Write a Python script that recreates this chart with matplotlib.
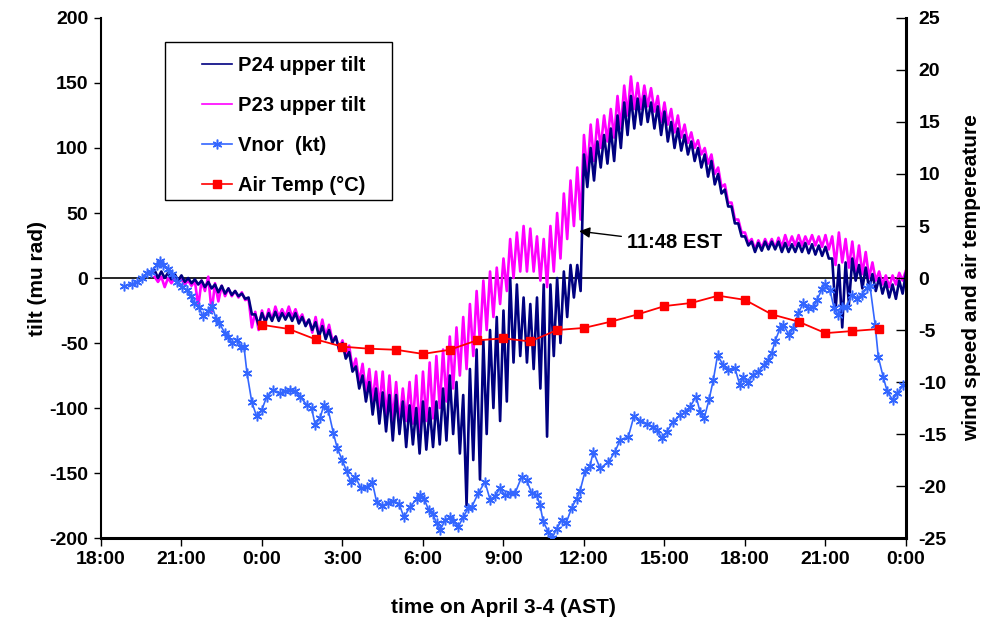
import numpy as np
import matplotlib
matplotlib.use("Agg")
import matplotlib.pyplot as plt
from matplotlib.patches import Rectangle

plt.rcParams['font.family'] = ['Liberation Sans', 'DejaVu Sans']
plt.rcParams['font.weight'] = 'bold'
plt.rcParams['axes.unicode_minus'] = False

# ---------------- data ----------------
# time axis: hours since 18:00 on April 3
xtick_hours = [0, 3, 6, 9, 12, 15, 18, 21, 24, 27, 30]
xtick_labels = ['18:00', '21:00', '0:00', '3:00', '6:00', '9:00', '12:00',
                '15:00', '18:00', '21:00', '0:00']

# tilt envelope samples (every 0.25 h from 2.0 h to 30.0 h): upper and lower readings
tilt_start, tilt_step = 2.0, 0.25
p24_hi = [6, 5, 4, 3, 2, 0, -1, -2, -3, -5, -6, -8, -10, -12, -15, -28,
          -27, -27, -26, -27, -27, -27, -30, -32, -34, -37, -40, -45, -50, -57, -68, -75,
          -80, -85, -88, -90, -90, -95, -98, -100, -95, -100, -95, -85, -75, -80, -90, -70,
          -55, -48, -40, -30, -25, 0, -5, -15, -20, -15, -5, -5, 0, 5, 10, 10,
          95, 100, 105, 110, 115, 125, 135, 140, 138, 140, 135, 132, 128, 120, 115, 110,
          105, 100, 95, 90, 80, 68, 55, 42, 32, 28, 27, 28, 28, 28, 27, 26,
          27, 27, 26, 25, 24, 15, 10, 12, 15, 10, 8, 3, 0, -3, -5, -2,
          4]
p24_lo = [0, 0, -1, -2, -3, -4, -5, -7, -8, -11, -12, -13, -14, -16, -28, -36,
          -34, -33, -33, -32, -33, -35, -37, -40, -45, -47, -50, -55, -62, -72, -85, -95,
          -105, -112, -118, -125, -120, -130, -128, -135, -132, -130, -128, -125, -120, -135, -175, -140,
          -155, -120, -100, -110, -95, -65, -60, -65, -70, -85, -122, -60, -50, -30, -15, -10,
          70, 75, 85, 88, 90, 100, 110, 115, 118, 120, 115, 110, 105, 100, 98, 95,
          90, 85, 78, 72, 65, 55, 42, 32, 25, 20, 21, 22, 22, 20, 20, 20,
          20, 19, 18, 17, 15, -25, -38, -20, -2, -8, -8, -10, -12, -15, -16, -12,
          -2]
p23_hi = [1, 1, 0, 0, -1, -2, -2, -2, 1, -4, -6, -8, -10, -11, -16, -26,
          -25, -24, -22, -24, -22, -24, -28, -32, -30, -32, -36, -45, -48, -52, -62, -66,
          -70, -72, -72, -75, -80, -85, -80, -75, -72, -65, -60, -55, -45, -38, -30, -20,
          -10, -2, 5, 8, 15, 30, 35, 40, 38, 32, 30, 40, 50, 65, 75, 85,
          110, 118, 122, 125, 130, 140, 148, 155, 150, 148, 146, 140, 135, 130, 125, 118,
          112, 106, 100, 95, 85, 72, 58, 45, 35, 30, 29, 30, 30, 31, 33, 32,
          33, 32, 33, 32, 33, 32, 35, 30, 28, 25, 20, 12, 5, 2, 2, 4,
          6]
p23_lo = [-3, -7, -4, -4, -5, -6, -22, -10, -26, -18, -14, -14, -15, -17, -38, -40,
          -34, -32, -30, -30, -30, -32, -36, -42, -44, -45, -48, -55, -60, -70, -80, -88,
          -95, -100, -108, -110, -112, -110, -112, -118, -110, -108, -100, -95, -85, -75, -70, -60,
          -50, -40, -30, -20, -10, 0, 5, 5, 5, -2, -7, 5, 15, 30, 40, 45,
          80, 90, 100, 105, 108, 115, 125, 130, 130, 132, 128, 120, 118, 112, 108, 104,
          100, 95, 88, 80, 70, 58, 45, 35, 27, 22, 23, 24, 23, 24, 25, 25,
          25, 26, 25, 24, 22, 10, 12, 8, 5, 3, 0, -2, -5, -7, -5, -2,
          2]

# wind speed Vnor (kt): time (h since 18:00) and value
vnor_t = [0.86, 1.14, 1.34, 1.53, 1.71, 1.86, 2.09, 2.20, 2.31, 2.50, 2.65, 2.83, 3.02, 3.20,
          3.35, 3.47, 3.65, 3.80, 3.99, 4.14, 4.29, 4.40, 4.62, 4.74, 4.88, 5.07, 5.22, 5.33,
          5.44, 5.62, 5.80, 5.99, 6.18, 6.41, 6.67, 6.86, 7.04, 7.23, 7.42, 7.67, 7.85, 7.98,
          8.16, 8.31, 8.47, 8.66, 8.80, 8.99, 9.16, 9.31, 9.47, 9.69, 9.90, 10.11, 10.27, 10.47,
          10.70, 10.89, 11.11, 11.29, 11.52, 11.78, 11.89, 12.04, 12.21, 12.37, 12.51, 12.65,
          12.82, 13.01, 13.13, 13.32, 13.50, 13.69, 13.82, 14.06, 14.31, 14.50, 14.68, 14.87,
          15.06, 15.24, 15.43, 15.68, 15.86, 16.05, 16.24, 16.36, 16.48, 16.67, 16.82, 16.98,
          17.17, 17.33, 17.54, 17.73, 17.85, 18.04, 18.22, 18.35, 18.60, 18.91, 19.16, 19.34,
          19.65, 19.86, 20.09, 20.34, 20.58, 20.72, 20.90, 21.08, 21.33, 21.58, 21.77, 21.95,
          22.18, 22.33, 22.48, 22.67, 22.82, 22.98, 23.19, 23.38, 23.63, 23.81, 23.94, 24.12,
          24.31, 24.50, 24.71, 24.87, 25.00, 25.12, 25.31, 25.43, 25.65, 25.80, 25.99, 26.17,
          26.36, 26.55, 26.69, 26.86, 26.98, 27.17, 27.32, 27.48, 27.60, 27.79, 27.98, 28.16,
          28.35, 28.54, 28.66, 28.85, 28.97, 29.15, 29.30, 29.50, 29.68, 29.90]
vnor_v = [-0.8, -0.6, -0.4, 0.0, 0.5, 0.6, 1.25, 1.6, 1.25, 0.9, 0.4, -0.35, -0.84, -1.15,
          -1.7, -2.4, -2.76, -3.7, -3.2, -2.7, -3.9, -4.3, -5.3, -5.7, -6.25, -6.0, -6.6, -6.6,
          -9.1, -11.9, -13.3, -12.7, -11.4, -10.8, -11.1, -10.9, -10.8, -10.9, -11.4, -12.2, -12.5, -14.1,
          -13.5, -12.2, -12.7, -14.9, -16.3, -17.5, -18.6, -19.6, -19.1, -20.2, -20.1, -19.6, -21.5, -21.9,
          -21.6, -21.4, -21.7, -23.0, -22.0, -21.2, -20.9, -21.2, -22.3, -22.7, -23.6, -24.2,
          -23.3, -23.0, -23.4, -23.9, -23.0, -22.1, -22.0, -20.7, -19.6, -21.3, -21.0, -20.2,
          -20.9, -20.7, -20.7, -19.1, -19.4, -20.7, -20.9, -21.8, -23.4, -24.4, -25.0, -24.1,
          -23.3, -23.6, -22.1, -21.2, -20.5, -18.6, -18.1, -16.7, -18.3, -17.7, -16.7, -15.6,
          -15.3, -13.3, -13.7, -14.0, -14.3, -14.6, -15.4, -14.8, -13.8, -13.2, -12.9, -12.4,
          -11.4, -12.9, -13.5, -11.6, -9.8, -7.4, -8.4, -8.8, -8.7, -10.3, -9.5, -10.1,
          -9.3, -9.0, -8.4, -7.9, -7.2, -6.1, -4.8, -4.5, -5.5, -4.8, -3.4, -2.4,
          -2.9, -2.8, -2.1, -1.1, -0.6, -1.2, -2.9, -3.6, -2.8, -2.8, -1.6, -2.0,
          -1.6, -1.0, -0.8, -4.5, -7.6, -9.5, -10.9, -11.7, -11.1, -10.3]

# air temperature (deg C), hourly from 0:00 (6 h) to 23:00 (29 h)
temp_t = list(range(6, 30))
temp_v = [-4.5, -4.9, -5.9, -6.6, -6.8, -6.9, -7.3, -6.9, -6.0, -5.8, -6.1, -5.0,
          -4.8, -4.2, -3.5, -2.7, -2.4, -1.7, -2.1, -3.5, -4.2, -5.3, -5.1, -4.9]

# ---------------- build zig-zag traces from the envelope readings ----------------
def zigzag(hi, lo):
    n = len(hi)
    base = tilt_start + tilt_step * np.arange(n)
    t = np.empty(2 * n)
    v = np.empty(2 * n)
    t[0::2] = base
    t[1::2] = base + tilt_step / 2
    v[0::2] = hi
    v[1::2] = lo
    return t, v

t24, v24 = zigzag(p24_hi, p24_lo)
t23, v23 = zigzag(p23_hi, p23_lo)

# ---------------- figure ----------------
FS = 14
LFS = 15
GFS = 14.5
fig = plt.figure(figsize=(9.84, 6.18), dpi=100)
ax = fig.add_axes([0.1026, 0.1294, 0.8181, 0.8415])
ax2 = ax.twinx()

l23, = ax.plot(t23, v23, color='#FF00FF', lw=1.9, label='P23 upper tilt')
l24, = ax.plot(t24, v24, color='#000080', lw=1.9, label='P24 upper tilt')
ax.axhline(0, color='black', lw=1.2, zorder=1)

lv, = ax2.plot(vnor_t, vnor_v, color='#3366FF', lw=1.2, marker=(6, 2, 0),
               markersize=7, markeredgewidth=1.1, label='Vnor  (kt)')
lt, = ax2.plot(temp_t, temp_v, color='#FF0000', lw=1.3, marker='s',
               markersize=6, label='Air Temp (°C)')

ax.set_xlim(0, 30)
ax.set_ylim(-200, 200)
ax2.set_ylim(-25, 25)
ax.set_yticks(np.arange(-200, 201, 50))
ax2.set_yticks(np.arange(-25, 26, 5))
ax.set_xticks(xtick_hours)
ax.set_xticklabels(xtick_labels)

for a in (ax, ax2):
    a.spines['top'].set_visible(False)
ax.spines['left'].set_linewidth(1.5)
ax.spines['bottom'].set_linewidth(2.2)
ax2.spines['right'].set_linewidth(2.2)
ax2.spines['left'].set_visible(False)
ax2.spines['bottom'].set_visible(False)

ax.tick_params(axis='x', direction='out', length=6, width=1, labelsize=FS, pad=3)
ax.tick_params(axis='y', direction='out', length=5, width=1, labelsize=FS, pad=4)
ax2.tick_params(axis='y', direction='in', length=7, width=1, labelsize=FS, pad=9)
for lab in ax.get_xticklabels() + ax.get_yticklabels() + ax2.get_yticklabels():
    lab.set_fontweight('bold')

ax.set_xlabel('time on April 3-4 (AST)', fontsize=LFS, fontweight='bold', labelpad=22)
ax.set_ylabel('tilt (mu rad)', fontsize=LFS, fontweight='bold', labelpad=2)
ax2.set_ylabel('wind speed and air tempereature', fontsize=LFS, fontweight='bold',
               labelpad=11)

ax.annotate('11:48 EST', xy=(17.82, 36), xytext=(19.6, 27), fontsize=GFS,
            fontweight='bold', ha='left', va='center',
            arrowprops=dict(arrowstyle='-|>', color='black', lw=1,
                            mutation_scale=16, shrinkA=2, shrinkB=0))

# legend
ax2.add_patch(Rectangle((0.0795, 0.65), 0.282, 0.304, transform=ax2.transAxes,
                        fill=True, facecolor='white', edgecolor='black', lw=1,
                        zorder=4))
leg = ax2.legend([l24, l23, lv, lt],
                 ['P24 upper tilt', 'P23 upper tilt', 'Vnor  (kt)', 'Air Temp (°C)'],
                 loc='upper left', bbox_to_anchor=(0.1255, 0.926), frameon=False,
                 borderpad=0, borderaxespad=0, handlelength=1.5, handletextpad=0.3,
                 labelspacing=1.03, prop={'size': GFS, 'weight': 'bold'})
for h in leg.legend_handles:
    h.set_linewidth(1.2)
leg.set_zorder(5)

fig.savefig('out.png', dpi=100)
